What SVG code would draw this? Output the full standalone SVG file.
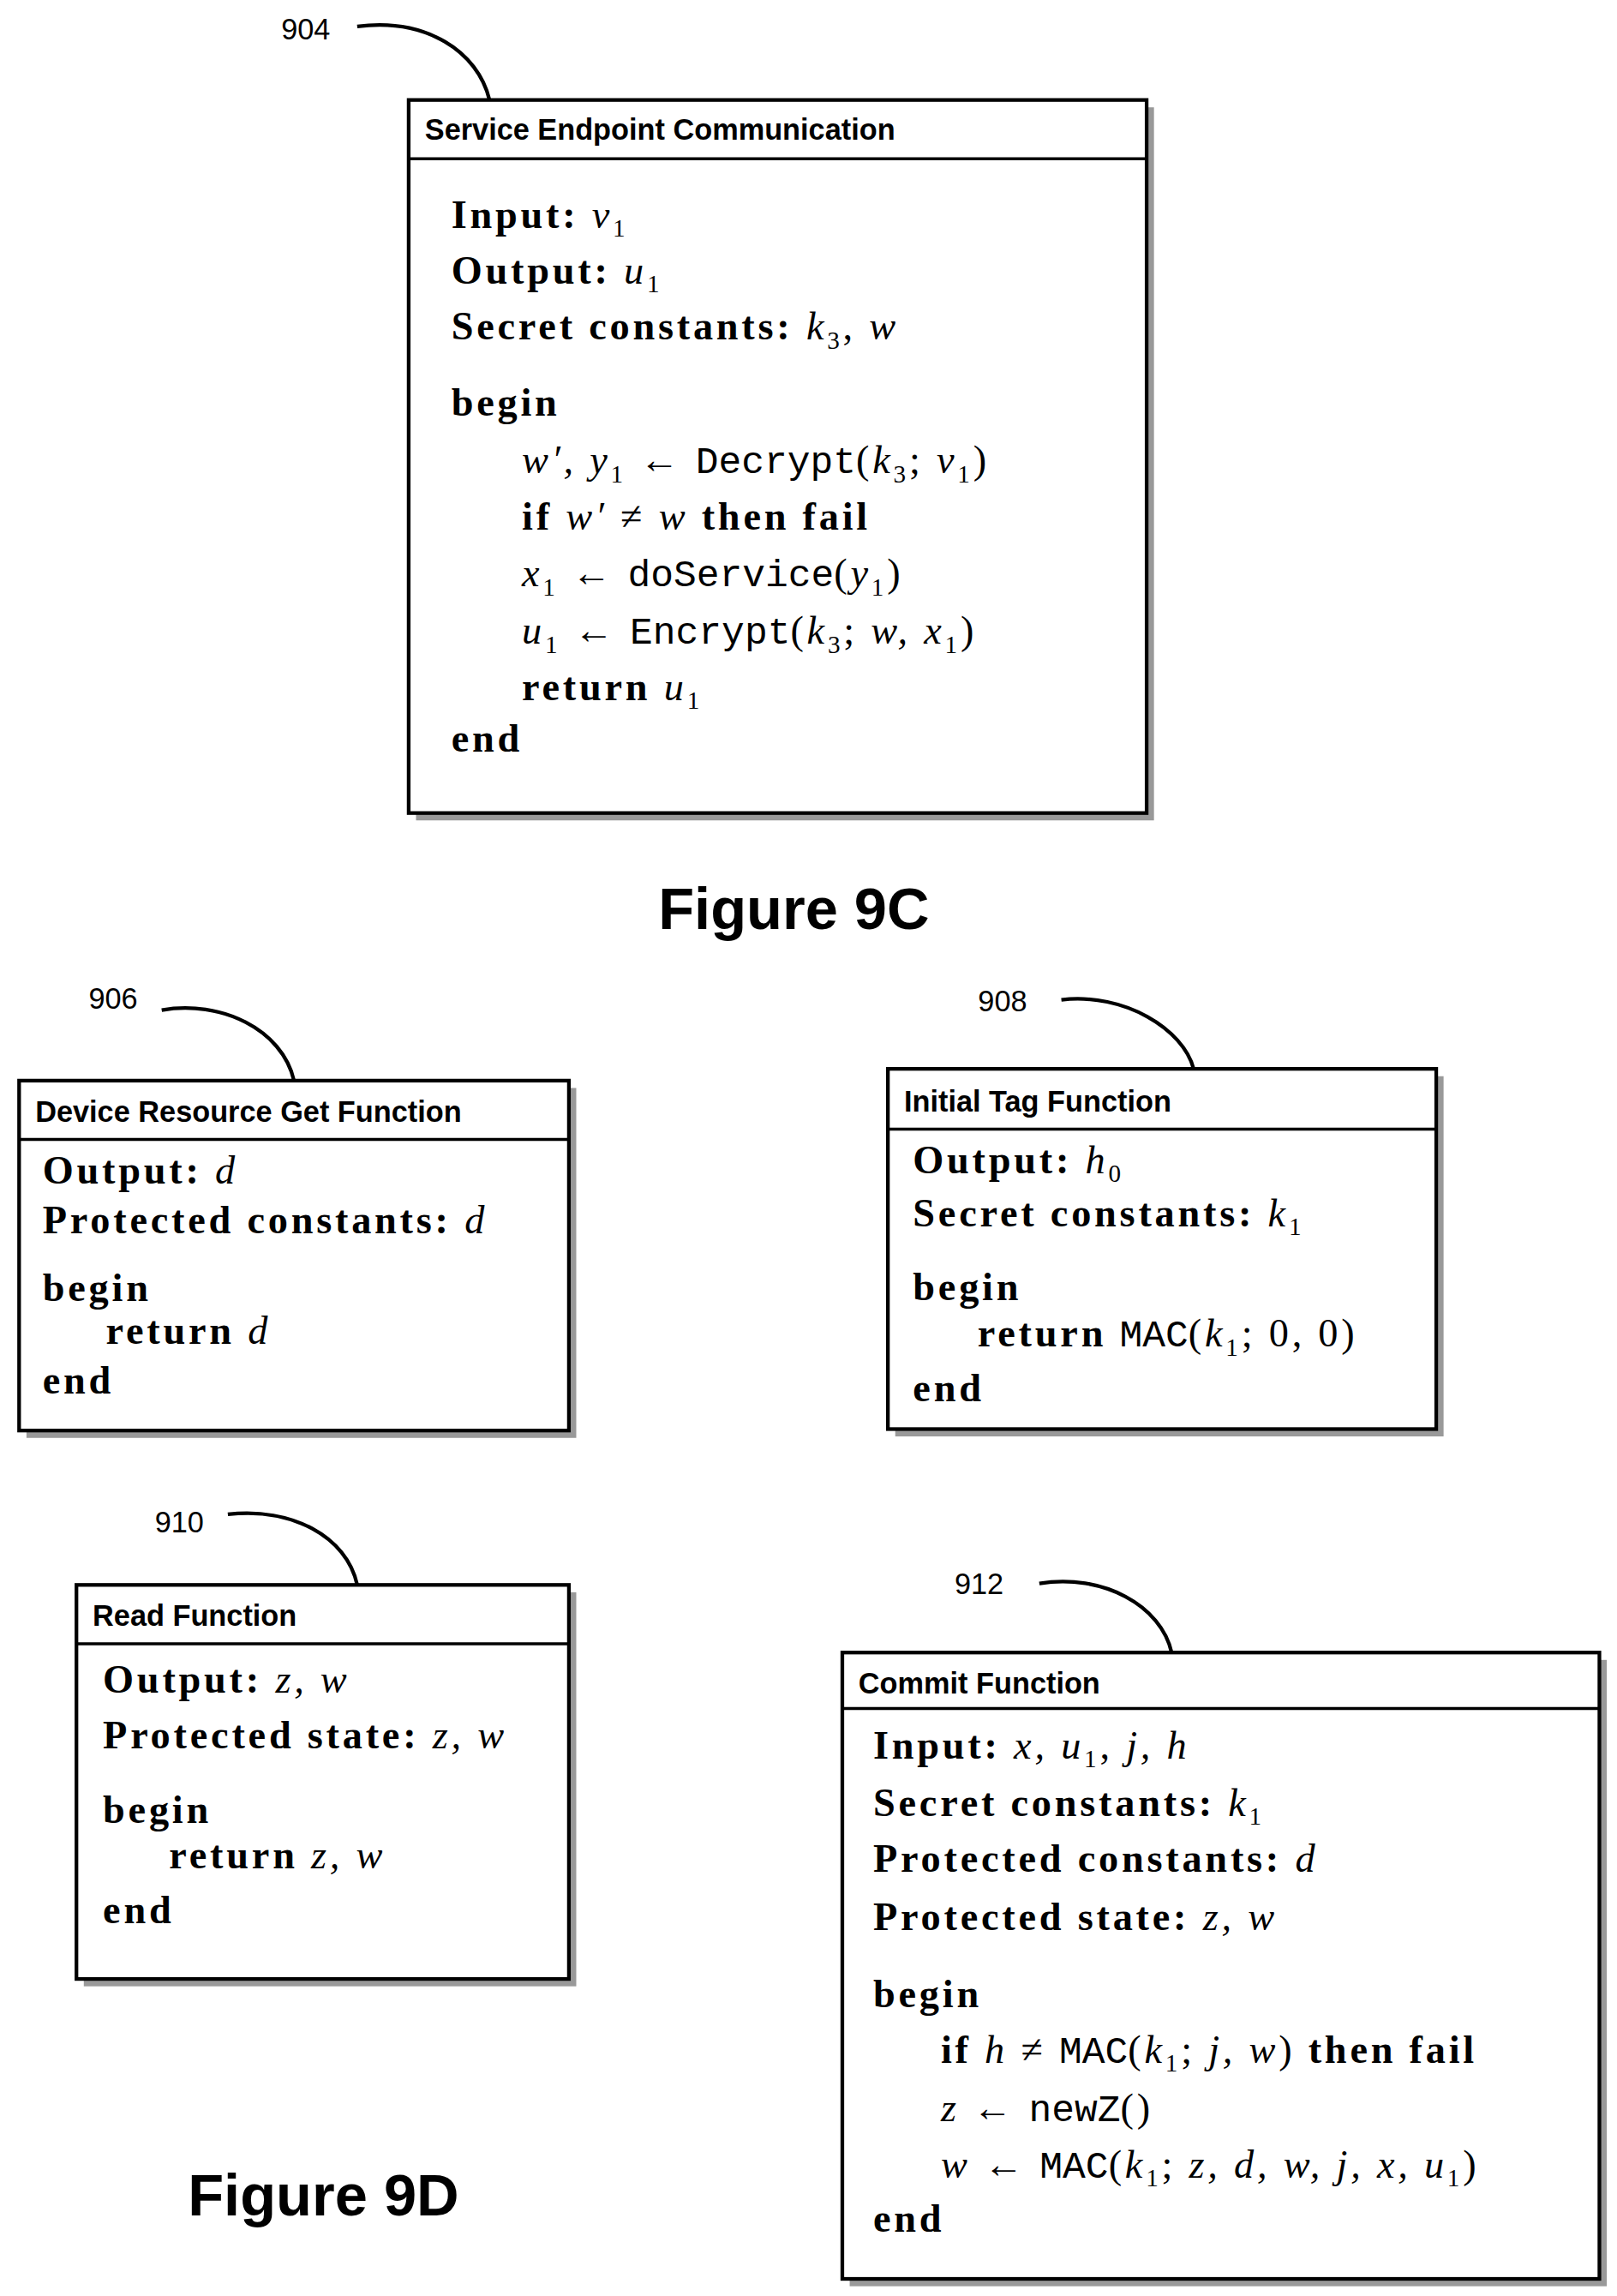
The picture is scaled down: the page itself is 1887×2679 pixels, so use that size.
<svg xmlns="http://www.w3.org/2000/svg" width="1887" height="2679" viewBox="0 0 1887 2679">
<style>
.bx{fill:#fff;stroke:#000;stroke-width:2.5}
.sh{fill:#999}
.hl{stroke:#000;stroke-width:2}
.hd{font-family:"Liberation Sans",Arial,sans-serif;font-weight:bold;font-size:20px}
.t{font-family:"Liberation Serif","Times New Roman",serif;font-size:27px;letter-spacing:2.2px}
.b{font-weight:bold}
.i{font-style:italic}
.m{font-family:"Liberation Mono","Courier New",monospace;font-size:26px;letter-spacing:0px}
.s{font-size:17px}
.lb{font-family:"Liberation Sans",Arial,sans-serif;font-size:20px}
.fg{font-family:"Liberation Sans",Arial,sans-serif;font-weight:bold;font-size:40px;text-anchor:middle}
.c{fill:none;stroke:#000;stroke-width:2.5}
</style>
<rect width="1887" height="2679" fill="#fff"/>
<g transform="scale(1.7155)">
<g id="connectors">
<path class="c" d="M243,18 C290,12 325,35 333,68"/>
<path class="c" d="M110,687 C150,680 192,700 200,735"/>
<path class="c" d="M722,680 C765,675 805,700 812,727"/>
<path class="c" d="M155,1030 C198,1025 236,1045 243,1078"/>
<path class="c" d="M707,1077 C750,1070 790,1092 797,1124"/>
</g>
<g id="n904">
<text class="lb" x="208" y="27" text-anchor="middle">904</text>
<rect class="sh" x="283" y="73" width="502" height="485"/>
<rect class="bx" x="278" y="68" width="502" height="485"/>
<line class="hl" x1="278" y1="108" x2="780" y2="108"/>
<text class="hd" x="289" y="95">Service Endpoint Communication</text>
<text class="t" x="307" y="155"><tspan class="b">Input:</tspan> <tspan class="i">v</tspan><tspan class="s" dy="6">1</tspan></text>
<text class="t" x="307" y="193"><tspan class="b">Output:</tspan> <tspan class="i">u</tspan><tspan class="s" dy="6">1</tspan></text>
<text class="t" x="307" y="231"><tspan class="b">Secret constants:</tspan> <tspan class="i">k</tspan><tspan class="s" dy="6">3</tspan><tspan dy="-6">, </tspan><tspan class="i">w</tspan></text>
<text class="t b" x="307" y="283">begin</text>
<text class="t" x="355" y="322"><tspan class="i">w′, y</tspan><tspan class="s" dy="6">1</tspan><tspan dy="-6"> ← </tspan><tspan class="m">Decrypt</tspan>(<tspan class="i">k</tspan><tspan class="s" dy="6">3</tspan><tspan dy="-6">; </tspan><tspan class="i">v</tspan><tspan class="s" dy="6">1</tspan><tspan dy="-6">)</tspan></text>
<text class="t" x="355" y="360"><tspan class="b">if</tspan> <tspan class="i">w′</tspan> ≠ <tspan class="i">w</tspan> <tspan class="b">then fail</tspan></text>
<text class="t" x="355" y="399"><tspan class="i">x</tspan><tspan class="s" dy="6">1</tspan><tspan dy="-6"> ← </tspan><tspan class="m">doService</tspan>(<tspan class="i">y</tspan><tspan class="s" dy="6">1</tspan><tspan dy="-6">)</tspan></text>
<text class="t" x="355" y="438"><tspan class="i">u</tspan><tspan class="s" dy="6">1</tspan><tspan dy="-6"> ← </tspan><tspan class="m">Encrypt</tspan>(<tspan class="i">k</tspan><tspan class="s" dy="6">3</tspan><tspan dy="-6">; </tspan><tspan class="i">w, x</tspan><tspan class="s" dy="6">1</tspan><tspan dy="-6">)</tspan></text>
<text class="t" x="355" y="476"><tspan class="b">return</tspan> <tspan class="i">u</tspan><tspan class="s" dy="6">1</tspan></text>
<text class="t b" x="307" y="511">end</text>
</g>
<text class="fg" x="540" y="632">Figure 9C</text>
<g id="n906">
<text class="lb" x="77" y="686" text-anchor="middle">906</text>
<rect class="sh" x="18" y="740" width="374" height="238"/>
<rect class="bx" x="13" y="735" width="374" height="238"/>
<line class="hl" x1="13" y1="775" x2="387" y2="775"/>
<text class="hd" x="24" y="763">Device Resource Get Function</text>
<text class="t" x="29" y="805"><tspan class="b">Output:</tspan> <tspan class="i">d</tspan></text>
<text class="t" x="29" y="839"><tspan class="b">Protected constants:</tspan> <tspan class="i">d</tspan></text>
<text class="t b" x="29" y="885">begin</text>
<text class="t" x="72" y="914"><tspan class="b">return</tspan> <tspan class="i">d</tspan></text>
<text class="t b" x="29" y="948">end</text>
</g>
<g id="n908">
<text class="lb" x="682" y="688" text-anchor="middle">908</text>
<rect class="sh" x="609" y="732" width="373" height="245"/>
<rect class="bx" x="604" y="727" width="373" height="245"/>
<line class="hl" x1="604" y1="768" x2="977" y2="768"/>
<text class="hd" x="615" y="756">Initial Tag Function</text>
<text class="t" x="621" y="798"><tspan class="b">Output:</tspan> <tspan class="i">h</tspan><tspan class="s" dy="6">0</tspan></text>
<text class="t" x="621" y="834"><tspan class="b">Secret constants:</tspan> <tspan class="i">k</tspan><tspan class="s" dy="6">1</tspan></text>
<text class="t b" x="621" y="884">begin</text>
<text class="t" x="665" y="916"><tspan class="b">return</tspan> <tspan class="m">MAC</tspan>(<tspan class="i">k</tspan><tspan class="s" dy="6">1</tspan><tspan dy="-6">; 0, 0)</tspan></text>
<text class="t b" x="621" y="953">end</text>
</g>
<g id="n910">
<text class="lb" x="122" y="1042" text-anchor="middle">910</text>
<rect class="sh" x="57" y="1083" width="335" height="268"/>
<rect class="bx" x="52" y="1078" width="335" height="268"/>
<line class="hl" x1="52" y1="1118" x2="387" y2="1118"/>
<text class="hd" x="63" y="1106">Read Function</text>
<text class="t" x="70" y="1151"><tspan class="b">Output:</tspan> <tspan class="i">z, w</tspan></text>
<text class="t" x="70" y="1189"><tspan class="b">Protected state:</tspan> <tspan class="i">z, w</tspan></text>
<text class="t b" x="70" y="1240">begin</text>
<text class="t" x="115" y="1271"><tspan class="b">return</tspan> <tspan class="i">z, w</tspan></text>
<text class="t b" x="70" y="1308">end</text>
</g>
<g id="n912">
<text class="lb" x="666" y="1084" text-anchor="middle">912</text>
<rect class="sh" x="578" y="1129" width="515" height="426"/>
<rect class="bx" x="573" y="1124" width="515" height="426"/>
<line class="hl" x1="573" y1="1162" x2="1088" y2="1162"/>
<text class="hd" x="584" y="1152">Commit Function</text>
<text class="t" x="594" y="1196"><tspan class="b">Input:</tspan> <tspan class="i">x, u</tspan><tspan class="s" dy="6">1</tspan><tspan dy="-6">, </tspan><tspan class="i">j, h</tspan></text>
<text class="t" x="594" y="1235"><tspan class="b">Secret constants:</tspan> <tspan class="i">k</tspan><tspan class="s" dy="6">1</tspan></text>
<text class="t" x="594" y="1273"><tspan class="b">Protected constants:</tspan> <tspan class="i">d</tspan></text>
<text class="t" x="594" y="1313"><tspan class="b">Protected state:</tspan> <tspan class="i">z, w</tspan></text>
<text class="t b" x="594" y="1365">begin</text>
<text class="t" x="640" y="1403"><tspan class="b">if</tspan> <tspan class="i">h</tspan> ≠ <tspan class="m">MAC</tspan>(<tspan class="i">k</tspan><tspan class="s" dy="6">1</tspan><tspan dy="-6">; </tspan><tspan class="i">j, w</tspan>) <tspan class="b">then fail</tspan></text>
<text class="t" x="640" y="1443"><tspan class="i">z</tspan> ← <tspan class="m">newZ</tspan>()</text>
<text class="t" x="640" y="1481"><tspan class="i">w</tspan> ← <tspan class="m">MAC</tspan>(<tspan class="i">k</tspan><tspan class="s" dy="6">1</tspan><tspan dy="-6">; </tspan><tspan class="i">z, d, w, j, x, u</tspan><tspan class="s" dy="6">1</tspan><tspan dy="-6">)</tspan></text>
<text class="t b" x="594" y="1518">end</text>
</g>
<text class="fg" x="220" y="1507">Figure 9D</text>
</g>
</svg>
